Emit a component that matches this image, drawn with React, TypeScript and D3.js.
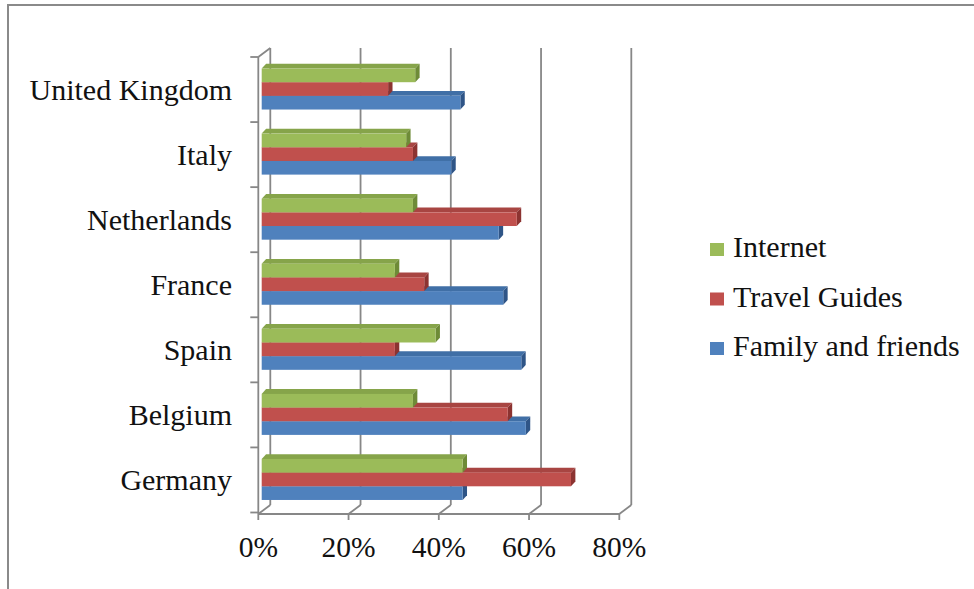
import React from "react";
import * as d3 from "d3";

// Share of respondents per information source, by country (%)
const categories = [
  "United Kingdom",
  "Italy",
  "Netherlands",
  "France",
  "Spain",
  "Belgium",
  "Germany",
];
const internet = [34, 32, 33.5, 29.5, 38.5, 33.5, 44.5];
const travelGuides = [28, 33.5, 56.5, 36, 29.5, 54.5, 68.5];
const familyAndFriends = [44, 42, 52.5, 53.5, 57.5, 58.5, 44.5];
const tickValues = [0, 20, 40, 60, 80];
const seriesNames = ["Internet", "Travel Guides", "Family and friends"];

const W = 974;
const H = 589;
const FONT = "'Liberation Serif', 'Times New Roman', serif";
const GRID = "#878787";

// 3D projection offsets
const WALL_DX = 12;
const WALL_DY = -9;
const BAR_DX = 4.4;
const BAR_DY = -4.8;

const series = [
  { name: seriesNames[0], values: internet, front: "#9BBB59", top: "#86A44A", side: "#6E8B37" },
  { name: seriesNames[1], values: travelGuides, front: "#C0504D", top: "#A84542", side: "#8C3331" },
  { name: seriesNames[2], values: familyAndFriends, front: "#4F81BD", top: "#406FA6", side: "#2F5587" },
];

export default function App() {
  const floorY = 514;
  const topY = 57;

  // front edge of the floor, back wall, and the plane the bars sit in
  const xFront = d3.scaleLinear().domain([0, 80]).range([258.3, 619.3]);
  const xBack = d3.scaleLinear().domain([0, 80]).range([258.3 + WALL_DX, 619.3 + WALL_DX]);
  const xBar = d3.scaleLinear().domain([0, 80]).range([261.7, 622.9]);

  const yCat = d3.scaleBand<string>().domain(categories).range([topY, floorY - 1.5]).padding(0);
  const bw = yCat.bandwidth();
  const groupH = 41;
  const ySeries = d3
    .scaleBand<string>()
    .domain(seriesNames)
    .range([0, groupH])
    .padding(0);
  const bh = ySeries.bandwidth();

  const boundaries = categories.map((c) => yCat(c) as number).concat([yCat.range()[1]]);

  const pts = (arr: [number, number][]) => arr.map((p) => p.join(",")).join(" ");

  return (
    <div style={{ position: "absolute", left: 0, top: 0, width: W, height: H, background: "#fff" }}>
      <svg width={W} height={H} style={{ display: "block" }}>
        <rect x={0} y={0} width={W} height={H} fill="#fff" />
        {/* chart frame */}
        <rect x={8} y={5} width={W + 20} height={H + 20} fill="none" stroke="#8A8A8A" strokeWidth={2} />

        {/* back wall gridlines */}
        {tickValues.map((v) => (
          <line
            key={"g" + v}
            x1={xBack(v)}
            x2={xBack(v)}
            y1={topY + WALL_DY}
            y2={floorY + WALL_DY}
            stroke={GRID}
            strokeWidth={1.8}
          />
        ))}
        {/* floor diagonals */}
        {tickValues.map((v) => (
          <line
            key={"d" + v}
            x1={xFront(v)}
            y1={floorY}
            x2={xBack(v)}
            y2={floorY + WALL_DY}
            stroke={GRID}
            strokeWidth={1.8}
          />
        ))}
        {/* left wall top edge */}
        <line x1={xFront(0)} y1={topY} x2={xBack(0)} y2={topY + WALL_DY} stroke={GRID} strokeWidth={1.8} />
        {/* category axis */}
        <line x1={xFront(0)} x2={xFront(0)} y1={topY} y2={floorY} stroke={GRID} strokeWidth={1.8} />
        {boundaries.map((y, i) => (
          <line key={"ct" + i} x1={xFront(0) - 8} x2={xFront(0)} y1={y} y2={y} stroke={GRID} strokeWidth={1.8} />
        ))}
        {/* value axis */}
        <line x1={xFront(0)} x2={xFront(80)} y1={floorY} y2={floorY} stroke={GRID} strokeWidth={1.8} />
        {tickValues.map((v) => (
          <line key={"vt" + v} x1={xFront(v)} x2={xFront(v)} y1={floorY} y2={floorY + 6} stroke={GRID} strokeWidth={1.8} />
        ))}

        {/* bars: lower series first so the one above covers its top face */}
        {categories.map((c, ci) => {
          const g0 = (yCat(c) as number) + (bw - groupH) / 2 - 0.5;
          return (
            <g key={c}>
              {[...series].reverse().map((s) => {
                const y = g0 + (ySeries(s.name) as number);
                const x0 = xBar(0);
                const x1 = xBar(s.values[ci]);
                const topFace: [number, number][] = [
                  [x0, y],
                  [x1, y],
                  [x1 + BAR_DX, y + BAR_DY],
                  [x0 + BAR_DX, y + BAR_DY],
                ];
                const sideFace: [number, number][] = [
                  [x1, y],
                  [x1 + BAR_DX, y + BAR_DY],
                  [x1 + BAR_DX, y + bh + BAR_DY],
                  [x1, y + bh],
                ];
                return (
                  <g key={s.name}>
                    <polygon points={pts(topFace)} fill={s.top} />
                    <polygon points={pts(sideFace)} fill={s.side} />
                    <rect x={x0} y={y} width={x1 - x0} height={bh} fill={s.front} />
                  </g>
                );
              })}
            </g>
          );
        })}

        {/* category labels */}
        {categories.map((c) => (
          <text
            key={"l" + c}
            x={232}
            y={(yCat(c) as number) + bw / 2 + 10.5}
            textAnchor="end"
            fontFamily={FONT}
            fontSize={30}
            fill="#111"
          >
            {c}
          </text>
        ))}

        {/* value labels */}
        {tickValues.map((v) => (
          <text
            key={"vl" + v}
            x={xFront(v)}
            y={557}
            textAnchor="middle"
            fontFamily={FONT}
            fontSize={29.5}
            fill="#111"
          >
            {v + "%"}
          </text>
        ))}

        {/* legend */}
        {series.map((s, i) => (
          <g key={"lg" + s.name} transform={`translate(710, ${243 + i * 49.5})`}>
            <rect x={0} y={0} width={14} height={13} fill={s.front} />
            <text x={23} y={14} fontFamily={FONT} fontSize={30} fill="#111">
              {s.name}
            </text>
          </g>
        ))}
      </svg>
    </div>
  );
}
